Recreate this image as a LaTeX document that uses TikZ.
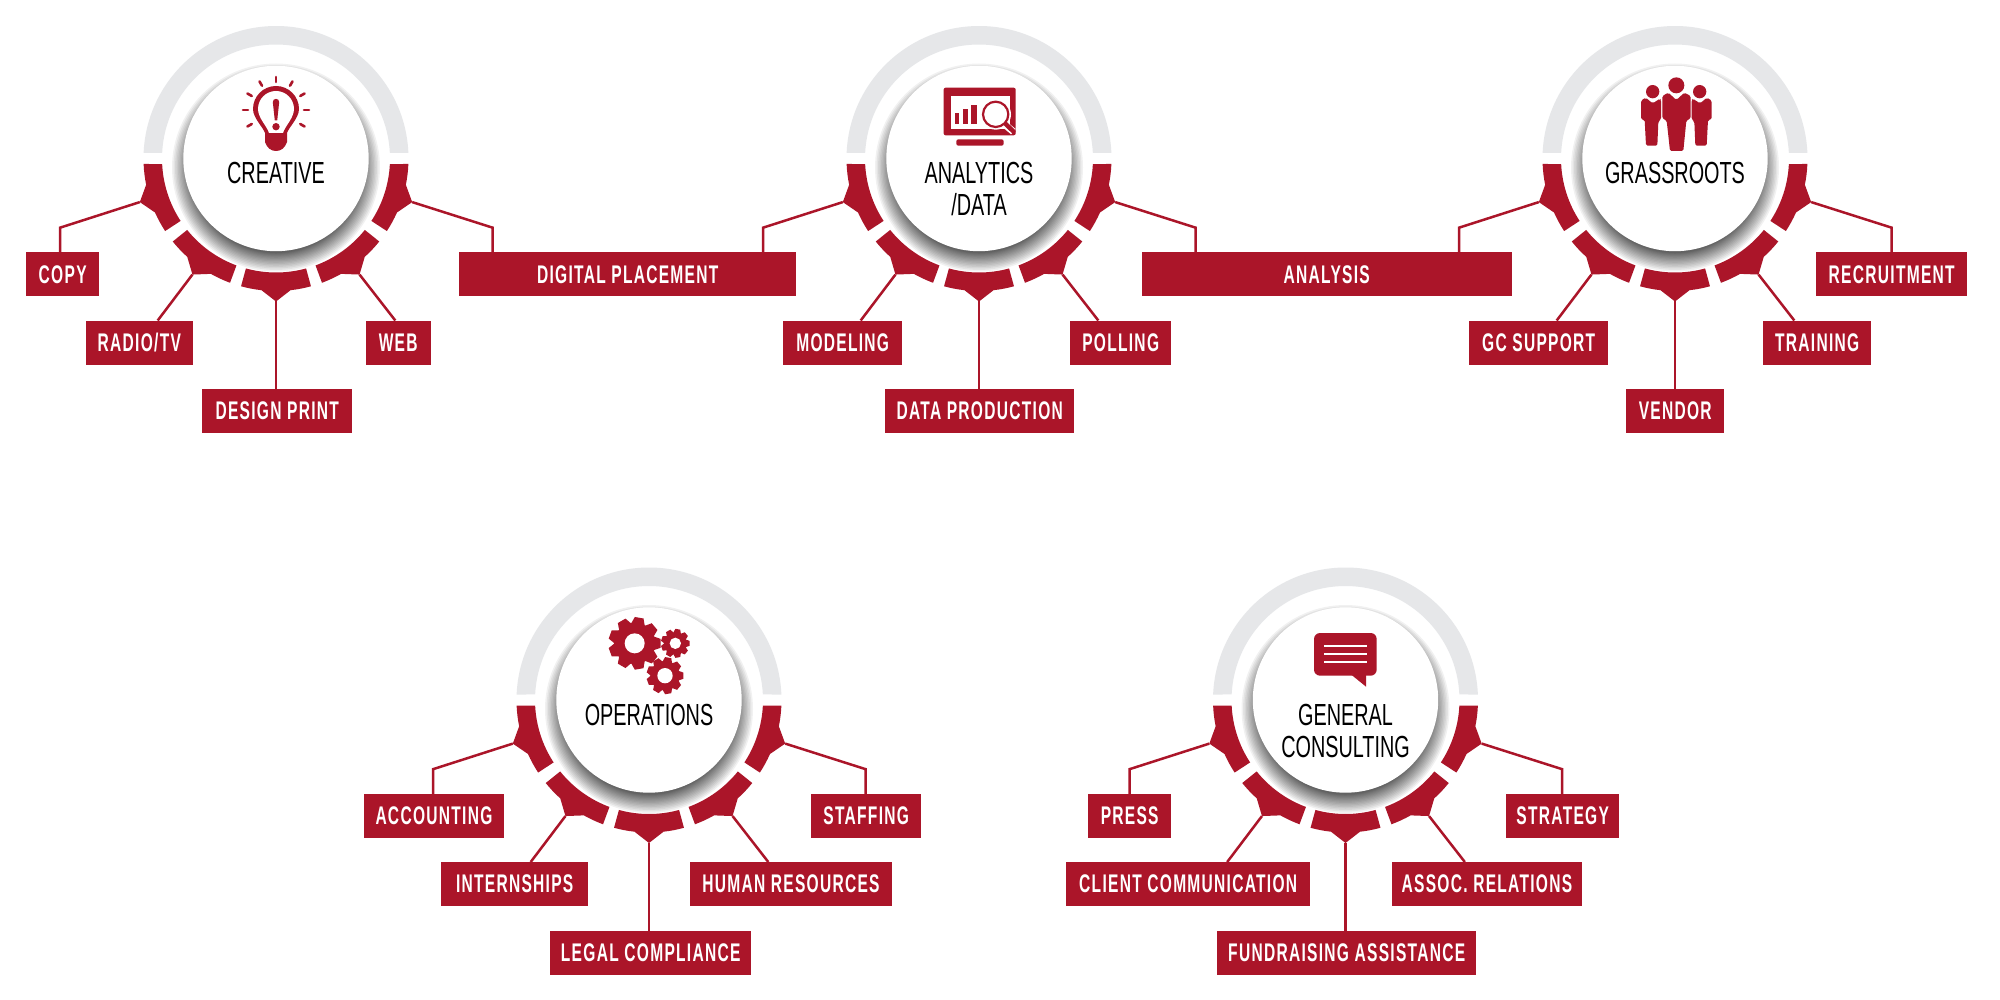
\documentclass[tikz,border=0pt]{standalone}
\usepackage{fontspec}
\setmainfont{Liberation Sans}
\newfontfamily\labelfont{Liberation Sans}[FakeStretch=0.61,LetterSpace=5]
\newfontfamily\titlefont{Liberation Sans}[FakeStretch=0.65]
\definecolor{brand}{HTML}{AB1529}
\definecolor{ringgray}{HTML}{E6E7E9}
\tikzset{
  labelbox/.style={fill=brand,text=white,inner sep=0pt,minimum height=44pt,font=\labelfont\bfseries\fontsize{25.5}{25.5}\selectfont,anchor=north west,align=center},
  titletext/.style={text=black,inner sep=0pt,align=center,font=\titlefont\fontsize{30.5}{32}\selectfont},
  conn/.style={draw=brand,line width=2.5pt,line join=miter},
  redfill/.style={fill=brand,draw=none},
  zoomgrid/.style={x=0.33333pt,y=-0.33333pt}
}
% ring segment: inner start, outer start, outer end, inner end, middle
\newcommand\ringseg[5]{%
  \fill[brand] (#1:114) arc[start angle=#1,end angle=#4,radius=114]
    -- (#3:132.5) arc[start angle=#3,end angle=#5+6.3,radius=132.5]
    -- (#5:143) -- (#5-6.3:132.5)
    arc[start angle=#5-6.3,end angle=#2,radius=132.5] -- cycle;
}
% hub: name, cx, cy, title, title offset
\newcommand\hub[5]{%
  \begin{scope}[shift={(#2,-#3)}]
    \foreach \i in {1,...,16}{
      \pgfmathsetmacro\rr{85+19*(\i/16)^1.3}
      \fill[black,opacity=.055] (0,-9) circle[radius=\rr];
    }
    \fill[white] (0,0) circle[radius=92.7];
    \fill[ringgray] (2.38:132.5) arc[start angle=2.38,end angle=177.62,radius=132.5]
      -- (177.23:114) arc[start angle=177.23,end angle=2.77,radius=114] -- cycle;
    \ringseg{182.77}{182.38}{213.2}{213.2}{197.75}
    \ringseg{218.8}{218.8}{249.7}{249.7}{234.25}
    \ringseg{254.7}{254.7}{285.3}{285.3}{270}
    \ringseg{290.3}{290.3}{321.2}{321.2}{305.75}
    \ringseg{326.8}{326.8}{357.62}{357.23}{342.25}
    \coordinate (#1-t1) at (197.75:143);
    \coordinate (#1-t2) at (234.25:143);
    \coordinate (#1-t3) at (270:143);
    \coordinate (#1-t4) at (305.75:143);
    \coordinate (#1-t5) at (342.25:143);
    \coordinate (#1-e1) at (-216,-69.2);
    \coordinate (#1-e5) at (216.7,-69.2);
    \coordinate (#1-d2) at (-118.3,-162.2);
    \coordinate (#1-d4) at (119.3,-162.2);
    \node[titletext] (#1-title) at (0,#5) {#4};
  \end{scope}
}
% label box: name, x1, x2, ytop, text
\newcommand\lbl[5]{%
  \pgfmathsetmacro\ww{#3-#2}
  \node[labelbox,minimum width=\ww pt] (#1) at (#2,-#4) {#5};
}
% connectors of one hub to five boxes
\newcommand\wires[6]{%
  \draw[conn] (#1-t1) -- (#1-e1) -- (#1-e1 |- #2.north);
  \draw[conn] (#1-t2) -- (#1-d2 |- #3.north);
  \draw[conn] (#1-t3) -- (#1-t3 |- #4.north);
  \draw[conn] (#1-t4) -- (#1-d4 |- #5.north);
  \draw[conn] (#1-t5) -- (#1-e5) -- (#1-e5 |- #6.north);
}
\newcommand\gearicon[6]{%
  \begin{scope}[shift={(#1,#2)}]
    \fill[brand] (0,0) circle[radius=#4];
    \foreach \k in {1,...,#6}{
      \pgfmathsetmacro\aa{\k*360/#6+10}
      \fill[brand,rotate=\aa] (-#3*0.27,#4*0.9) -- (-#3*0.17,#3) -- (#3*0.17,#3) -- (#3*0.27,#4*0.9) -- cycle;
    }
    \fill[white] (0,0) circle[radius=#5];
  \end{scope}
}
\begin{document}
\begin{tikzpicture}[x=1pt,y=1pt]
\useasboundingbox (0,0) rectangle (2000,-1000);
\fill[white] (0,0) rectangle (2000,-1000);

\hub{cr}{276}{158.5}{CREATIVE}{-14.5}
\hub{an}{979}{158.5}{ANALYTICS\\/DATA}{-30.5}
\hub{gr}{1675}{158.5}{GRASSROOTS}{-14.5}
\hub{op}{649}{700}{OPERATIONS}{-14.5}
\hub{ge}{1345.5}{700}{GENERAL\\CONSULTING}{-30.5}

% boxes, top row
\lbl{copy}{26}{99}{252.3}{COPY}
\lbl{radio}{85.3}{193}{320.5}{RADIO/TV}
\lbl{design}{202}{352}{389}{DESIGN PRINT}
\lbl{web}{365.7}{430.3}{320.5}{WEB}
\lbl{digital}{459}{796}{252.3}{DIGITAL PLACEMENT}
\lbl{modeling}{783}{902}{320.5}{MODELING}
\lbl{dataprod}{885}{1074}{389}{DATA PRODUCTION}
\lbl{polling}{1070}{1171}{320.5}{POLLING}
\lbl{analysis}{1141.6}{1511.5}{252.3}{ANALYSIS}
\lbl{gcsupport}{1469}{1608}{320.5}{GC SUPPORT}
\lbl{vendor}{1626}{1724}{389}{VENDOR}
\lbl{training}{1763}{1871}{320.5}{TRAINING}
\lbl{recruit}{1816}{1967}{252.3}{RECRUITMENT}
% boxes, bottom row
\lbl{account}{363.5}{504}{793.8}{ACCOUNTING}
\lbl{intern}{441}{588}{862}{INTERNSHIPS}
\lbl{legal}{550}{751}{930.5}{LEGAL COMPLIANCE}
\lbl{human}{690}{891.5}{862}{HUMAN RESOURCES}
\lbl{staffing}{811}{921}{793.8}{STAFFING}
\lbl{press}{1088}{1171}{793.8}{PRESS}
\lbl{client}{1066}{1310}{862}{CLIENT COMMUNICATION}
\lbl{fund}{1217}{1476}{930.5}{FUNDRAISING ASSISTANCE}
\lbl{assoc}{1391.5}{1582}{862}{ASSOC. RELATIONS}
\lbl{strategy}{1506}{1619}{793.8}{STRATEGY}

\wires{cr}{copy}{radio}{design}{web}{digital}
\wires{an}{digital}{modeling}{dataprod}{polling}{analysis}
\wires{gr}{analysis}{gcsupport}{vendor}{training}{recruit}
\wires{op}{account}{intern}{legal}{human}{staffing}
\wires{ge}{press}{client}{fund}{assoc}{strategy}

% light bulb
\begin{scope}[shift={(276,-110)}]
  \foreach \a in {-30,0,...,210}
    \draw[brand,line width=2.6pt,line cap=round] (\a:28) -- (\a:33);
  \fill[brand] (-11,-23) .. controls (-13,-17) and (-23,-8) .. (-23,1)
    arc[start angle=180,end angle=0,radius=23]
    .. controls (23,-8) and (13,-17) .. (11,-23)
    -- (11,-32) .. controls (9,-38) and (5,-41) .. (0,-41)
    .. controls (-5,-41) and (-9,-38) .. (-11,-32) -- cycle;
  \fill[white] (-7,-23) .. controls (-9,-16) and (-18,-8) .. (-18,1)
    arc[start angle=180,end angle=0,radius=18]
    .. controls (18,-8) and (9,-16) .. (7,-23) -- cycle;
  \fill[brand] (-3.2,8) arc[start angle=180,end angle=0,radius=3.2] -- (1.2,-10.5) -- (-1.2,-10.5) -- cycle;
  \fill[brand] (0,-16.7) circle[radius=3.7];
\end{scope}

% monitor with magnifier
\begin{scope}[shift={(840,-60)},zoomgrid]
  \fill[brand,rounded corners=2pt] (311,83) rectangle (527,226);
  \fill[white] (332,107) rectangle (510,207);
  \fill[brand,rounded corners=2pt] (349,238) rectangle (491,257);
  \fill[brand] (345,160) rectangle (358,193);
  \fill[brand] (368,148) rectangle (383,193);
  \fill[brand] (393,135) rectangle (410,193);
  \draw[white,line width=7pt] (490,190) -- (520,215);
  \fill[white] (467,163) circle[radius=46];
  \draw[brand,line width=4.5pt,line cap=round] (495,190) -- (520,214);
  \draw[brand,line width=2.2pt,fill=white] (467,163) circle[radius=38];
\end{scope}

% people
\begin{scope}[shift={(1580,-50)},zoomgrid]
  \fill[brand] (218,125) circle[radius=20];
  \fill[brand] (359,125) circle[radius=20];
  \fill[brand] (289,106) circle[radius=24];
  \fill[brand,rounded corners=1.5pt] (183,152) -- (197,143) -- (218,160) -- (240,146) -- (243,150) -- (243,208) -- (235,215) -- (232,287) -- (198,287) -- (194,210) -- (183,208) -- cycle;
  \fill[brand,rounded corners=1.5pt] (395,152) -- (381,143) -- (360,160) -- (338,146) -- (335,150) -- (335,208) -- (343,215) -- (346,287) -- (380,287) -- (384,210) -- (395,208) -- cycle;
  \fill[brand,rounded corners=1.5pt] (247,138) -- (265,128) -- (289,150) -- (313,128) -- (332,138) -- (332,205) -- (319,212) -- (310,303) -- (270,303) -- (260,212) -- (247,205) -- cycle;
\end{scope}

% gears
\begin{scope}[shift={(570,-590)},zoomgrid]
  \gearicon{194}{160}{78}{62}{30}{9}
  \gearicon{316}{160}{43}{34}{17}{9}
  \gearicon{285}{257}{55}{44}{23}{9}
\end{scope}

% speech bubble
\begin{scope}[shift={(1270,-610)},zoomgrid]
  \fill[brand,rounded corners=6pt] (132,69) rectangle (320,197);
  \fill[brand] (245,195) -- (288,230) -- (288,195) -- cycle;
  \foreach \yy in {109,133,157}
    \fill[white] (162,\yy-3) rectangle (292,\yy+3);
\end{scope}
\end{tikzpicture}
\end{document}
